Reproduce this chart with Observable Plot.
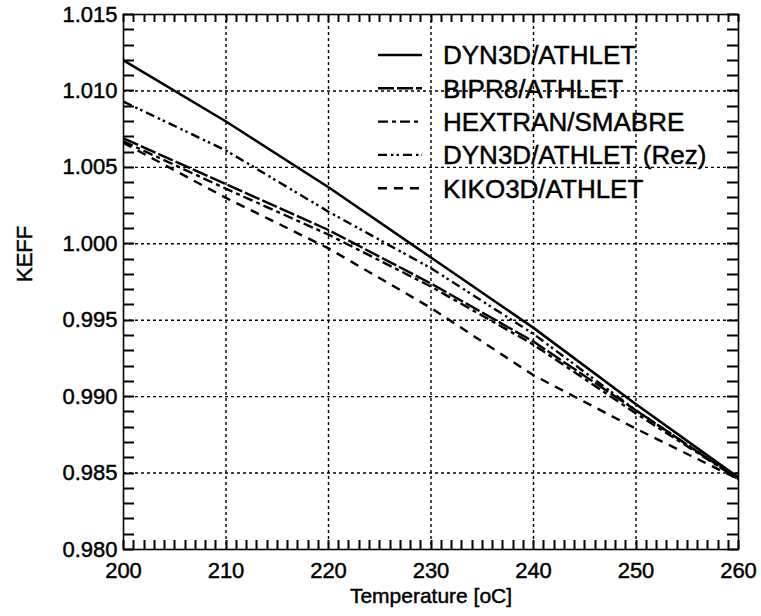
<!DOCTYPE html>
<html>
<head>
<meta charset="utf-8">
<script src="https://cdn.jsdelivr.net/npm/d3@7"></script>
<script src="https://cdn.jsdelivr.net/npm/@observablehq/plot@0.6"></script>
<style>
  html, body { margin: 0; padding: 0; background: #fff; }
  #chart { width: 761px; height: 616px; }
</style>
</head>
<body>
<div id="chart"></div>
<script>
// Data
const temperatures = [200, 210, 220, 230, 240, 250, 260];
const dyn3dAthlet    = [1.0120, 1.0080, 1.0037, 0.9991, 0.9945, 0.9895, 0.9847];
const bipr8Athlet    = [1.0069, 1.0039, 1.0009, 0.9974, 0.9936, 0.9891, 0.9846];
const hextranSmabre  = [1.0067, 1.0036, 1.0006, 0.9972, 0.9934, 0.9889, 0.9846];
const dyn3dAthletRez = [1.0093, 1.0061, 1.0021, 0.9984, 0.9941, 0.9891, 0.9846];
const kiko3dAthlet   = [1.0066, 1.0030, 0.9997, 0.9958, 0.9914, 0.9879, 0.9846];

const seriesNames = ["DYN3D/ATHLET", "BIPR8/ATHLET", "HEXTRAN/SMABRE", "DYN3D/ATHLET (Rez)", "KIKO3D/ATHLET"];
const seriesValues = [dyn3dAthlet, bipr8Athlet, hextranSmabre, dyn3dAthletRez, kiko3dAthlet];
const seriesDash = [null, "16,3", "10,4,4,4", "9,4,2.5,3,2.5,4", "9,7"];
const seriesWidth = [2.6, 2.4, 2.4, 2.4, 2.4];

const xMajorTicks = [200, 210, 220, 230, 240, 250, 260];
const yMajorTicks = [0.980, 0.985, 0.990, 0.995, 1.000, 1.005, 1.010, 1.015];
const xMinorTicks = d3.range(200, 261, 1);
const yMinorTicks = d3.range(0, 36).map(i => +(0.980 + i * 0.001).toFixed(3));
const xTitle = "Temperature [oC]";
const yTitle = "KEFF";

(function draw() {
  const lineMarks = seriesNames.map((name, s) => {
    const rows = temperatures.map((t, i) => ({t, k: seriesValues[s][i]}));
    return Plot.line(rows, {
      x: "t", y: "k", stroke: "black",
      strokeWidth: seriesWidth[s],
      strokeDasharray: seriesDash[s] ?? undefined,
      strokeLinecap: "butt"
    });
  });

  const gridStyle = {stroke: "black", strokeOpacity: 1, strokeWidth: 1.4, strokeDasharray: "3,3"};

  const chart = Plot.plot({
    width: 761,
    height: 616,
    marginLeft: 123,
    marginRight: 23,
    marginTop: 14,
    marginBottom: 67,
    style: {fontFamily: "'Liberation Sans', Arial, sans-serif", fontSize: "22px", color: "black", background: "white"},
    x: {domain: [200, 260]},
    y: {domain: [0.980, 1.015]},
    marks: [
      Plot.gridX(xMajorTicks.slice(1, -1), gridStyle),
      Plot.gridY(yMajorTicks.slice(1, -1), gridStyle),
      Plot.axisX(xMajorTicks, {anchor: "bottom", tickSize: 0, tickPadding: 13, tickFormat: d3.format("d"), label: null}),
      Plot.axisY(yMajorTicks, {anchor: "left", tickSize: 0, tickPadding: 6, tickFormat: d3.format(".3f"), label: null}),
      ...lineMarks,
      Plot.frame({stroke: "black", strokeWidth: 1.6}),
      Plot.text([xTitle], {frameAnchor: "bottom", dy: 53, fontSize: 21, fill: "black"}),
      Plot.text([yTitle], {frameAnchor: "left", dx: -99, rotate: -90, fontSize: 22, fill: "black"})
    ]
  });

  document.getElementById("chart").appendChild(chart);

  const svg = d3.select(chart);
  const xs = chart.scale("x"), ys = chart.scale("y");
  const frameLeft = d3.min(xs.range), frameRight = d3.max(xs.range);
  const frameTop = d3.min(ys.range), frameBottom = d3.max(ys.range);

  // inward minor ticks on all four sides, placed through Plot's scales
  const tickGroup = svg.append("g");
  const addTick = (xa, ya, xb, yb) => tickGroup.append("line")
    .attr("x1", xa).attr("y1", ya).attr("x2", xb).attr("y2", yb)
    .attr("stroke", "#000").attr("stroke-width", 2).attr("stroke-opacity", 1);
  xMinorTicks.forEach(v => {
    const px = Math.round(xs.apply(v)) + 0.5;
    addTick(px, frameBottom, px, frameBottom - 9);
    addTick(px, frameTop, px, frameTop + 8);
  });
  yMinorTicks.forEach(v => {
    const py = Math.round(ys.apply(v)) + 0.5;
    addTick(frameLeft, py, frameLeft + 11, py);
    addTick(frameRight, py, frameRight - 11, py);
  });

  // In-plot legend (upper right)
  const legend = svg.append("g")
    .attr("font-family", "'Liberation Sans', Arial, sans-serif")
    .attr("font-size", 26)
    .attr("text-anchor", "start");
  seriesNames.forEach((name, i) => {
    const ly = 55 + i * 33.3;
    legend.append("line")
      .attr("x1", 378).attr("x2", 422).attr("y1", ly).attr("y2", ly)
      .attr("stroke", "black").attr("stroke-width", seriesWidth[i])
      .attr("stroke-dasharray", seriesDash[i]);
    legend.append("text")
      .attr("x", 443).attr("y", ly).attr("dy", "0.36em")
      .attr("text-anchor", "start")
      .attr("fill", "black").text(name);
  });
  // slightly heavier text, like the printed original
  svg.selectAll("text").attr("stroke", "black").attr("stroke-width", 0.45);
})();
</script>
</body>
</html>
